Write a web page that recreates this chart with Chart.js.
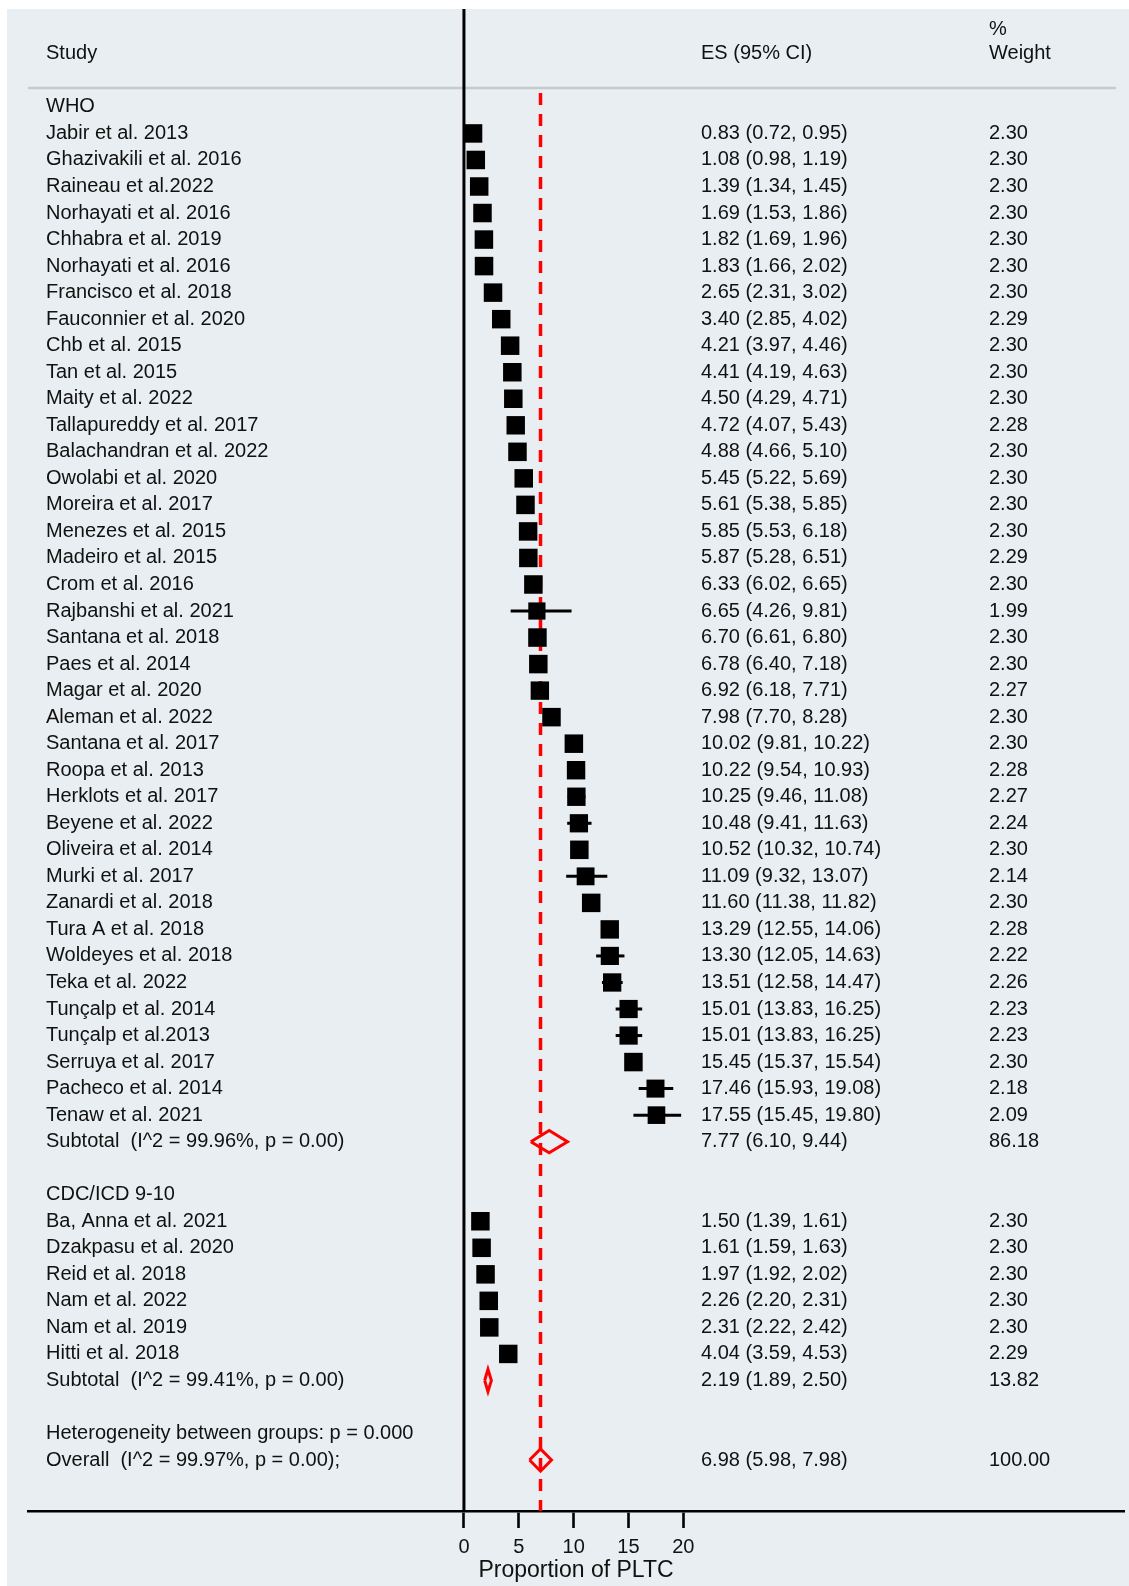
<!DOCTYPE html>
<html>
<head>
<meta charset="utf-8">
<title>Forest plot - Proportion of PLTC</title>
<script src="https://cdn.jsdelivr.net/npm/chart.js@4.4.1/dist/chart.umd.min.js"></script>
<style>
  html, body { margin: 0; padding: 0; background: #fff; overflow: hidden; }
  #wrap { width: 1129px; height: 1586px; }
  canvas { display: block; }
</style>
</head>
<body>
<div id="wrap"><canvas id="forest" width="1129" height="1586"></canvas></div>
<script>
// Group 1: WHO definition
const whoStudies = [
  'Jabir et al. 2013', 'Ghazivakili et al. 2016', 'Raineau et al.2022', 'Norhayati et al. 2016',
  'Chhabra et al. 2019', 'Norhayati et al. 2016', 'Francisco et al. 2018', 'Fauconnier et al. 2020',
  'Chb et al. 2015', 'Tan et al. 2015', 'Maity et al. 2022', 'Tallapureddy et al. 2017',
  'Balachandran et al. 2022', 'Owolabi et al. 2020', 'Moreira et al. 2017', 'Menezes et al. 2015',
  'Madeiro et al. 2015', 'Crom et al. 2016', 'Rajbanshi et al. 2021', 'Santana et al. 2018',
  'Paes et al. 2014', 'Magar et al. 2020', 'Aleman et al. 2022', 'Santana et al. 2017',
  'Roopa et al. 2013', 'Herklots et al. 2017', 'Beyene et al. 2022', 'Oliveira et al. 2014',
  'Murki et al. 2017', 'Zanardi et al. 2018', 'Tura A et al. 2018', 'Woldeyes et al. 2018',
  'Teka et al. 2022', 'Tunçalp et al. 2014', 'Tunçalp et al.2013', 'Serruya et al. 2017',
  'Pacheco et al. 2014', 'Tenaw et al. 2021'
];
const whoEs = [0.83, 1.08, 1.39, 1.69, 1.82, 1.83, 2.65, 3.40, 4.21, 4.41, 4.50, 4.72, 4.88, 5.45, 5.61, 5.85,
  5.87, 6.33, 6.65, 6.70, 6.78, 6.92, 7.98, 10.02, 10.22, 10.25, 10.48, 10.52, 11.09, 11.60, 13.29, 13.30,
  13.51, 15.01, 15.01, 15.45, 17.46, 17.55];
const whoLow = [0.72, 0.98, 1.34, 1.53, 1.69, 1.66, 2.31, 2.85, 3.97, 4.19, 4.29, 4.07, 4.66, 5.22, 5.38, 5.53,
  5.28, 6.02, 4.26, 6.61, 6.40, 6.18, 7.70, 9.81, 9.54, 9.46, 9.41, 10.32, 9.32, 11.38, 12.55, 12.05,
  12.58, 13.83, 13.83, 15.37, 15.93, 15.45];
const whoHigh = [0.95, 1.19, 1.45, 1.86, 1.96, 2.02, 3.02, 4.02, 4.46, 4.63, 4.71, 5.43, 5.10, 5.69, 5.85, 6.18,
  6.51, 6.65, 9.81, 6.80, 7.18, 7.71, 8.28, 10.22, 10.93, 11.08, 11.63, 10.74, 13.07, 11.82, 14.06, 14.63,
  14.47, 16.25, 16.25, 15.54, 19.08, 19.80];
const whoWeight = [2.30, 2.30, 2.30, 2.30, 2.30, 2.30, 2.30, 2.29, 2.30, 2.30, 2.30, 2.28, 2.30, 2.30, 2.30, 2.30,
  2.29, 2.30, 1.99, 2.30, 2.30, 2.27, 2.30, 2.30, 2.28, 2.27, 2.24, 2.30, 2.14, 2.30, 2.28, 2.22,
  2.26, 2.23, 2.23, 2.30, 2.18, 2.09];

// Group 2: CDC/ICD 9-10 definition
const cdcStudies = ['Ba, Anna et al. 2021', 'Dzakpasu et al. 2020', 'Reid et al. 2018',
  'Nam et al. 2022', 'Nam et al. 2019', 'Hitti et al. 2018'];
const cdcEs = [1.50, 1.61, 1.97, 2.26, 2.31, 4.04];
const cdcLow = [1.39, 1.59, 1.92, 2.20, 2.22, 3.59];
const cdcHigh = [1.61, 1.63, 2.02, 2.31, 2.42, 4.53];
const cdcWeight = [2.30, 2.30, 2.30, 2.30, 2.30, 2.29];

// Pooled estimates: WHO subtotal, CDC subtotal, overall
const groupNames = ['WHO', 'CDC/ICD 9-10'];
const pooledLabels = ['Subtotal  (I^2 = 99.96%, p = 0.00)', 'Subtotal  (I^2 = 99.41%, p = 0.00)',
  'Overall  (I^2 = 99.97%, p = 0.00);'];
const pooledEs = [7.77, 2.19, 6.98];
const pooledLow = [6.10, 1.89, 5.98];
const pooledHigh = [9.44, 2.50, 7.98];
const pooledWeight = [86.18, 13.82, 100.00];
const heterogeneityText = 'Heterogeneity between groups: p = 0.000';

const xTicks = [0, 5, 10, 15, 20];
const axisTitle = 'Proportion of PLTC';

// ---- build row layout (one row per line of the table) ----
const groups = [
  { name: groupNames[0], studies: whoStudies, es: whoEs, lo: whoLow, hi: whoHigh, w: whoWeight },
  { name: groupNames[1], studies: cdcStudies, es: cdcEs, lo: cdcLow, hi: cdcHigh, w: cdcWeight }
];
const rows = [];
let r = 0;
groups.forEach((g, gi) => {
  rows.push({ kind: 'group', text: g.name, y: r++ });
  g.studies.forEach((name, i) => {
    rows.push({ kind: 'study', text: name, es: g.es[i], lo: g.lo[i], hi: g.hi[i], w: g.w[i], y: r++ });
  });
  rows.push({ kind: 'pooled', text: pooledLabels[gi], es: pooledEs[gi], lo: pooledLow[gi],
    hi: pooledHigh[gi], w: pooledWeight[gi], y: r++ });
  r++; // blank line
});
rows.push({ kind: 'note', text: heterogeneityText, y: r++ });
rows.push({ kind: 'pooled', text: pooledLabels[2], es: pooledEs[2], lo: pooledLow[2],
  hi: pooledHigh[2], w: pooledWeight[2], y: r++ });

const studyRows = rows.filter(d => d.kind === 'study');
const pooledRows = rows.filter(d => d.kind === 'pooled');

const FONT = '"Liberation Sans", Arial, Helvetica, sans-serif';
const SQUARE = 18.5;      // side (px) of a square at 2.30 % weight
const DIAMOND_H = 0.42;   // half height of diamonds, in rows

// datasets
const ciSets = studyRows.map(d => ({
  data: [{ x: d.lo, y: d.y }, { x: d.hi, y: d.y }],
  showLine: true, borderColor: '#000', borderWidth: 3, pointRadius: 0, order: 2
}));
const squareSet = {
  data: studyRows.map(d => ({ x: d.es, y: d.y })),
  pointStyle: 'rect',
  pointRadius: studyRows.map(d => SQUARE * Math.sqrt(d.w / 2.30) / (2 * Math.SQRT1_2)),
  backgroundColor: '#000', borderWidth: 0, order: 1
};
const diamondSets = pooledRows.map(d => ({
  data: [{ x: d.lo, y: d.y }, { x: d.es, y: d.y - DIAMOND_H }, { x: d.hi, y: d.y },
         { x: d.es, y: d.y + DIAMOND_H }, { x: d.lo, y: d.y }],
  showLine: true, borderColor: '#ff0000', borderWidth: 3, pointRadius: 0,
  borderJoinStyle: 'miter', order: 0
}));

// background + reference lines
const framePlugin = {
  id: 'frame',
  beforeDraw(chart) {
    const ctx = chart.ctx;
    ctx.save();
    ctx.fillStyle = '#ffffff';
    ctx.fillRect(0, 0, chart.width, chart.height);
    ctx.fillStyle = '#e8eef1';
    ctx.fillRect(7, 9, chart.width - 7, chart.height - 9);
    ctx.restore();
  },
  beforeDatasetsDraw(chart) {
    const { ctx, chartArea, scales: { x } } = chart;
    ctx.save();
    // header separator
    ctx.strokeStyle = '#c6cacc';
    ctx.lineWidth = 2.5;
    ctx.beginPath();
    ctx.moveTo(chartArea.left, 88);
    ctx.lineTo(chartArea.right - 8, 88);
    ctx.stroke();
    // null line at 0
    const x0 = x.getPixelForValue(0);
    ctx.strokeStyle = '#000';
    ctx.lineWidth = 3;
    ctx.beginPath();
    ctx.moveTo(x0, chartArea.top);
    ctx.lineTo(x0, chartArea.bottom);
    ctx.stroke();
    // overall estimate, dashed red
    const xo = x.getPixelForValue(pooledEs[2]);
    ctx.strokeStyle = '#ff0000';
    ctx.lineWidth = 3.5;
    ctx.setLineDash([12, 9]);
    ctx.beginPath();
    ctx.moveTo(xo, 93);
    ctx.lineTo(xo, chartArea.bottom);
    ctx.stroke();
    ctx.restore();
  }
};

// table text
const textPlugin = {
  id: 'forestText',
  afterDatasetsDraw(chart) {
    const ctx = chart.ctx, y = chart.scales.y;
    const colStudy = 46, colEs = 701, colW = 989;
    ctx.save();
    ctx.fillStyle = '#111';
    ctx.font = '20px ' + FONT;
    ctx.textBaseline = 'middle';
    ctx.textAlign = 'left';
    ctx.fillText('Study', colStudy, 53);
    ctx.fillText('ES (95% CI)', colEs, 53);
    ctx.fillText('%', colW, 29);
    ctx.fillText('Weight', colW, 53);
    rows.forEach(d => {
      const py = y.getPixelForValue(d.y);
      ctx.fillText(d.text, colStudy, py);
      if (d.es !== undefined) {
        ctx.fillText(d.es.toFixed(2) + ' (' + d.lo.toFixed(2) + ', ' + d.hi.toFixed(2) + ')', colEs, py);
        ctx.fillText(d.w.toFixed(2), colW, py);
      }
    });
    ctx.restore();
  }
};

new Chart(document.getElementById('forest').getContext('2d'), {
  type: 'scatter',
  data: { datasets: [squareSet, ...diamondSets, ...ciSets] },
  options: {
    responsive: false,
    animation: false,
    events: [],
    layout: { autoPadding: false, padding: { top: 9, left: 28, right: 5, bottom: 0 } },
    plugins: { legend: { display: false }, tooltip: { enabled: false } },
    scales: {
      x: {
        type: 'linear',
        min: -39.74,
        max: 60.17,
        afterBuildTicks: s => { s.ticks = xTicks.map(v => ({ value: v })); },
        afterFit: s => { s.height = 75; },
        border: { display: true, color: '#000', width: 2.6 },
        grid: { drawOnChartArea: false, drawTicks: true, tickLength: 17, tickWidth: 2.6, tickColor: '#000' },
        ticks: { color: '#111', padding: 7, maxRotation: 0, autoSkip: false,
          font: { family: FONT, size: 20 } },
        title: { display: true, text: axisTitle, color: '#111',
          font: { family: FONT, size: 23 }, padding: { top: 0, bottom: 2 } }
      },
      y: {
        type: 'linear',
        display: false,
        reverse: true,
        min: -3.69,
        max: 52.92
      }
    }
  },
  plugins: [framePlugin, textPlugin]
});
</script>
</body>
</html>
